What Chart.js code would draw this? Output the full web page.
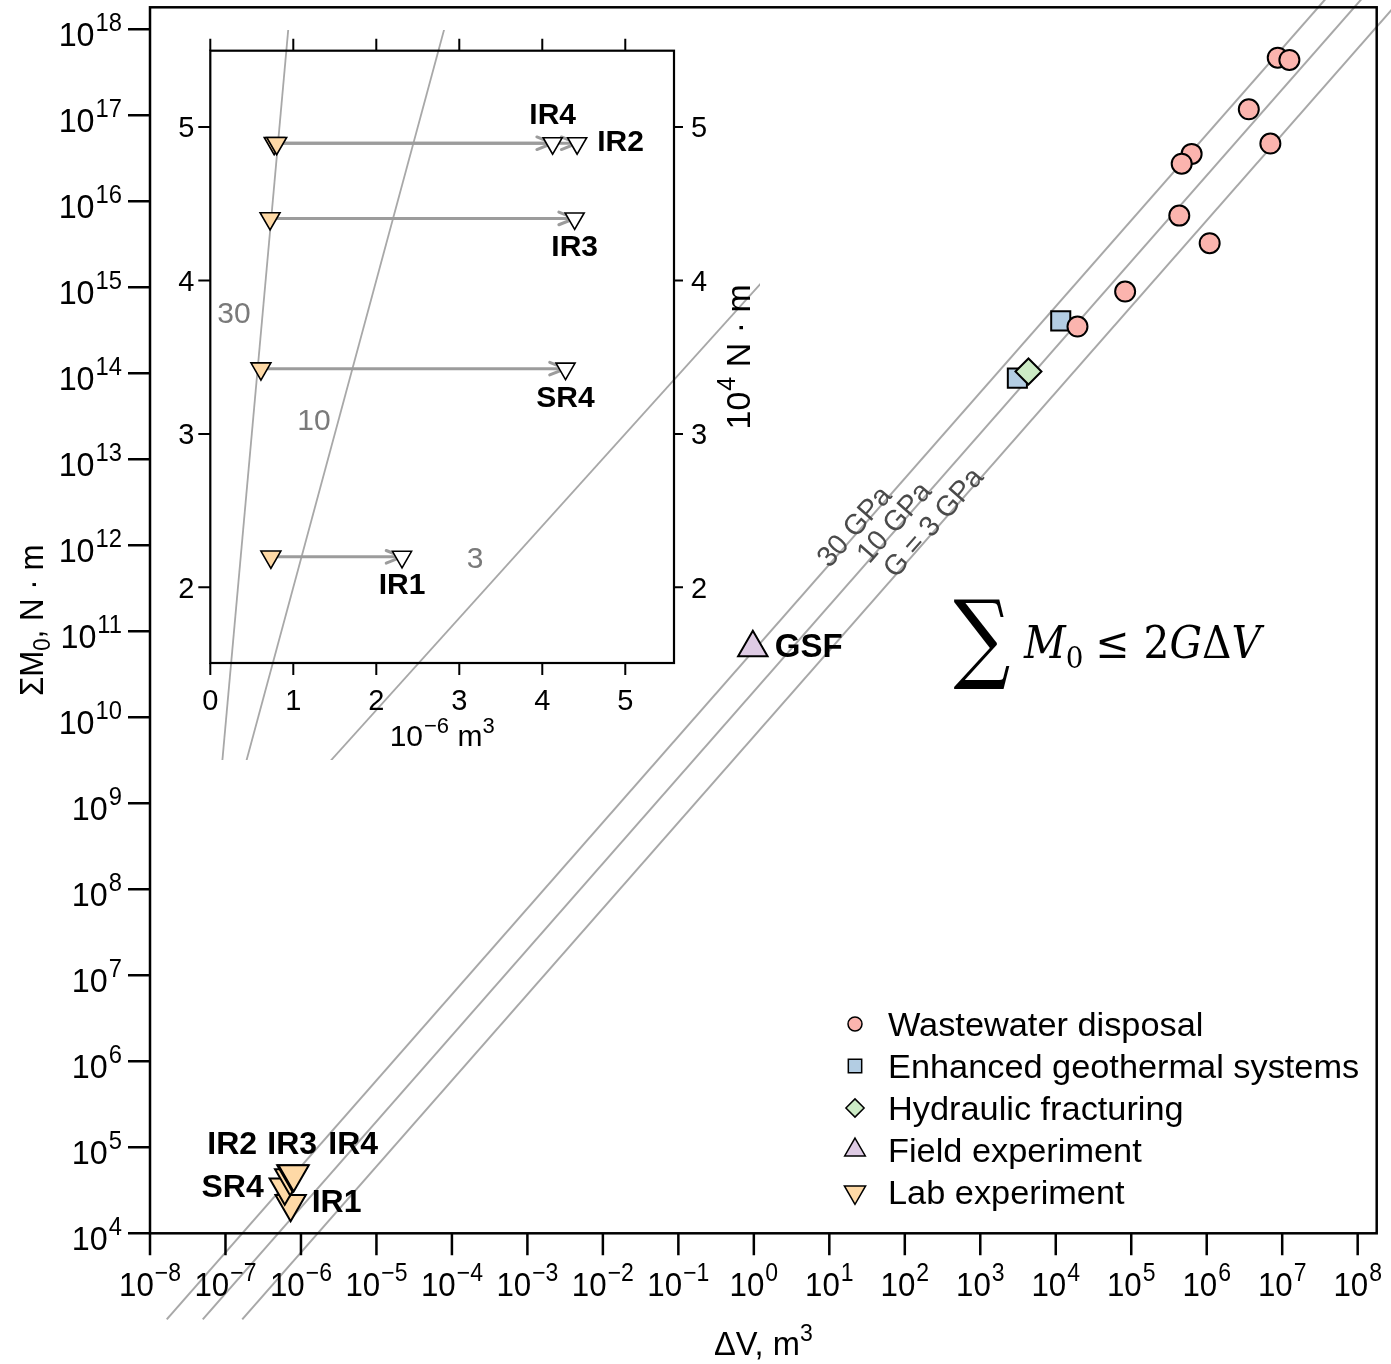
<!DOCTYPE html>
<html>
<head>
<meta charset="utf-8">
<script src="https://cdn.jsdelivr.net/npm/chart.js@4.4.1/dist/chart.umd.min.js"></script>
<style>
  body { margin: 0; background: #fff; }
  #wrap { position: relative; width: 1391px; height: 1364px; }
  #main { position: absolute; left: 0; top: 0; }
  #inset { position: absolute; left: 150px; top: 0; }
</style>
</head>
<body>
<div id="wrap">
  <canvas id="main" width="1391" height="1364"></canvas>
  <canvas id="inset" width="660" height="790"></canvas>
</div>
<script>
// ---- data: main panel (log-log), dV in m^3, sum M0 in N·m ----
const wasteV = [8.73e6, 1.245e7, 3.61e6, 6.97e6, 6.31e5, 4.66e5, 4.33e5, 1.094e6, 8.30e4, 1.94e4];
const wasteM = [4.68e17, 4.40e17, 1.175e17, 4.69e16, 3.56e16, 2.74e16, 6.82e15, 3.26e15, 8.93e14, 3.50e14];
const egsV = [1.164e4, 3.10e3];
const egsM = [4.07e14, 8.79e13];
const hfV = [4.35e3];
const hfM = [1.05e14];
const gsfV = [0.97];
const gsfM = [6.46e10];

// lab experiments (inset units: 1e-6 m^3 and 1e4 N·m)
const labNames = ['IR1', 'SR4', 'IR3', 'IR4', 'IR2'];
const labV0 = [0.73, 0.61, 0.72, 0.77, 0.80];   // filled markers
const labV1 = [2.31, 4.28, 4.39, 4.125, 4.42];  // open markers
const labM = [2.199, 3.425, 4.404, 4.894, 4.894];

// shear modulus lines, sum M0 = 2 G dV
const modGPa = [30, 10, 3];
const modLabels = ['30 GPa', '10 GPa', 'G = 3 GPa'];
const modLabelV = [24.7, 83, 275];
const lineM = [1e3, 1e19];        // main panel line extent (N·m)
const insetLineV = [0, 10];       // inset line extent (1e-6 m^3)
const insetModLabels = ['30', '10', '3'];
const insetModLabelPos = [[0.286, 3.794], [1.249, 3.097], [3.189, 2.197]];

// ticks
const xExps = [-8, -7, -6, -5, -4, -3, -2, -1, 0, 1, 2, 3, 4, 5, 6, 7, 8];
const yExps = [4, 5, 6, 7, 8, 9, 10, 11, 12, 13, 14, 15, 16, 17, 18];
const insetXTicks = [0, 1, 2, 3, 4, 5];
const insetYTicks = [2, 3, 4, 5];

const legendNames = ['Wastewater disposal', 'Enhanced geothermal systems', 'Hydraulic fracturing', 'Field experiment', 'Lab experiment'];

const PINK = '#FBB4AE', BLUE = '#B3CDE3', GREEN = '#CCEBC5', PURPLE = '#DECBE4', ORANGE = '#FED9A6';
const LINE_GREY = '#a8a8a8';
const FONT = '"Liberation Sans", Arial, Helvetica, sans-serif';
const SERIF = '"DejaVu Serif", "Liberation Serif", serif';

function pts(xs, ys) { return xs.map((x, i) => ({ x: x, y: ys[i] })); }

// draw a run of text pieces [{t, size, style, dy, family}] on one baseline
function rich(ctx, parts, x, y, align, sx) {
  sx = sx || 1;
  let total = 0;
  const ws = parts.map(p => {
    ctx.font = (p.style || '') + ' ' + p.size + 'px ' + (p.family || FONT);
    const w = ctx.measureText(p.t).width * sx + (p.gap || 0);
    total += w;
    return w;
  });
  let cx = align === 'right' ? x - total : align === 'center' ? x - total / 2 : x;
  ctx.textAlign = 'left';
  ctx.textBaseline = 'alphabetic';
  parts.forEach((p, i) => {
    ctx.save();
    ctx.font = (p.style || '') + ' ' + p.size + 'px ' + (p.family || FONT);
    ctx.translate(cx + (p.gap || 0), y + (p.dy || 0));
    ctx.scale(sx, 1);
    ctx.fillText(p.t, 0, 0);
    ctx.restore();
    cx += ws[i];
  });
  return total;
}

function supText(e) { return e < 0 ? '\u2212' + (-e) : String(e); }

function marker(ctx, style, rot, r, x, y, fill, bw) {
  ctx.save();
  ctx.fillStyle = fill;
  ctx.strokeStyle = '#000';
  ctx.lineWidth = bw;
  Chart.helpers.drawPoint(ctx, { pointStyle: style, rotation: rot, radius: r, borderWidth: bw }, x, y);
  ctx.restore();
}

// ---------------- main panel ----------------
const mainDecor = {
  id: 'mainDecor',
  beforeDraw(chart) {
    const ctx = chart.ctx;
    ctx.save();
    ctx.fillStyle = '#fff';
    ctx.fillRect(0, 0, chart.width, chart.height);
    ctx.restore();
  },
  afterDraw(chart) {
    const ctx = chart.ctx, a = chart.chartArea;
    const xs = chart.scales.x, ys = chart.scales.y;
    ctx.save();
    ctx.strokeStyle = '#000';
    ctx.fillStyle = '#000';
    ctx.lineWidth = 2.5;
    ctx.strokeRect(a.left, a.top, a.right - a.left, a.bottom - a.top);

    // ticks and labels
    ctx.beginPath();
    xExps.forEach(e => {
      const px = xs.getPixelForValue(Math.pow(10, e));
      ctx.moveTo(px, a.bottom); ctx.lineTo(px, a.bottom + 22);
    });
    yExps.forEach(e => {
      const py = ys.getPixelForValue(Math.pow(10, e));
      ctx.moveTo(a.left - 22, py); ctx.lineTo(a.left, py);
    });
    ctx.stroke();
    xExps.forEach(e => {
      const px = xs.getPixelForValue(Math.pow(10, e));
      rich(ctx, [{ t: '10', size: 34 }, { t: supText(e), size: 25, dy: -15, gap: 1 }], px, a.bottom + 63, 'center', 0.92);
    });
    yExps.forEach(e => {
      const py = ys.getPixelForValue(Math.pow(10, e));
      rich(ctx, [{ t: '10', size: 34 }, { t: supText(e), size: 25, dy: -15, gap: 1 }], a.left - 28, py + 17, 'right', 0.95);
    });

    // axis titles
    const cxm = (a.left + a.right) / 2, cym = (a.top + a.bottom) / 2;
    rich(ctx, [{ t: '\u0394V, m', size: 34 }, { t: '3', size: 24, dy: -14 }], cxm, 1355, 'center', 0.96);
    ctx.save();
    ctx.translate(43, cym);
    ctx.rotate(-Math.PI / 2);
    rich(ctx, [{ t: '\u03a3M', size: 34 }, { t: '0', size: 24, dy: 7 }, { t: ', N \u00b7 m', size: 34 }], 0, 0, 'center', 0.92);
    ctx.restore();

    // modulus line labels
    ctx.fillStyle = '#4a4a4a';
    modGPa.forEach((g, i) => {
      const v = modLabelV[i];
      const p1x = xs.getPixelForValue(v), p1y = ys.getPixelForValue(2 * g * 1e9 * v);
      const p2x = xs.getPixelForValue(v * 10), p2y = ys.getPixelForValue(2 * g * 1e9 * v * 10);
      ctx.save();
      ctx.translate(p1x, p1y);
      ctx.rotate(Math.atan2(p2y - p1y, p2x - p1x));
      rich(ctx, [{ t: modLabels[i], size: 29 }], 0, 3, 'center', 0.98);
      ctx.restore();
    });

    // point labels
    ctx.fillStyle = '#000';
    const gx = xs.getPixelForValue(gsfV[0]), gy = ys.getPixelForValue(gsfM[0]);
    rich(ctx, [{ t: 'GSF', size: 33, style: 'bold' }], gx + 22, gy - 3 + 12, 'left');
    const lp = i => [xs.getPixelForValue(labV0[i] * 1e-6), ys.getPixelForValue(labM[i] * 1e4)];
    const [ir1x, ir1y] = lp(0), [sr4x, sr4y] = lp(1), [ir3x, ir3y] = lp(2);
    rich(ctx, [{ t: 'IR1', size: 32, style: 'bold' }], ir1x + 21, ir1y - 3 + 11.5, 'left');
    rich(ctx, [{ t: 'SR4', size: 32, style: 'bold' }], sr4x - 21, sr4y - 2 + 11.5, 'right');
    rich(ctx, [{ t: 'IR2', size: 32, style: 'bold' }], ir3x - 58, ir3y - 35 + 11.5, 'center');
    rich(ctx, [{ t: 'IR3', size: 32, style: 'bold' }], ir3x + 2, ir3y - 35 + 11.5, 'center');
    rich(ctx, [{ t: 'IR4', size: 32, style: 'bold' }], ir3x + 63, ir3y - 35 + 11.5, 'center');

    // formula: big summation sign fitted to its box
    ctx.save();
    ctx.font = '100px ' + SERIF;
    const m = ctx.measureText('\u2211');
    const gw = m.actualBoundingBoxLeft + m.actualBoundingBoxRight;
    const gh = m.actualBoundingBoxAscent + m.actualBoundingBoxDescent;
    ctx.translate(953.5, 600);
    ctx.scale(56.5 / gw, 90 / gh);
    ctx.textAlign = 'left';
    ctx.textBaseline = 'alphabetic';
    ctx.fillText('\u2211', m.actualBoundingBoxLeft, m.actualBoundingBoxAscent);
    ctx.restore();
    const fParts = [
      { t: 'M', size: 44, style: 'italic', family: SERIF },
      { t: '0', size: 30, dy: 10, family: SERIF },
      { t: '\u2264', size: 44, family: SERIF, gap: 12 },
      { t: '2', size: 44, family: SERIF, gap: 14 },
      { t: 'G', size: 44, style: 'italic', family: SERIF },
      { t: '\u0394', size: 44, family: SERIF },
      { t: 'V', size: 44, style: 'italic', family: SERIF }
    ];
    const fw = rich(chart.ctx, fParts, -9999, -9999, 'left', 1);
    rich(ctx, fParts, 1024, 658, 'left', 235 / fw);

    // legend
    const legendSets = [2, 0, 1, 3, 4].map(k => chart.data.datasets[k]);
    legendSets.forEach((ds, i) => {
      const y = 1024 + i * 42;
      marker(ctx, ds.pointStyle, ds.pointRotation || 0, ds.pointRadius * 0.7, 855, y, ds.pointBackgroundColor, 1.5);
      ctx.fillStyle = '#000';
      rich(ctx, [{ t: legendNames[i], size: 33 }], 888, y + 12, 'left', 1.04);
    });
    ctx.restore();
  }
};

const mainSets = [
  { label: 'egs', data: pts(egsV, egsM), pointStyle: 'rect', pointRadius: 13.5, pointBackgroundColor: BLUE, order: 5 },
  { label: 'hf', data: pts(hfV, hfM), pointStyle: 'rectRot', pointRadius: 13, pointBackgroundColor: GREEN, order: 4 },
  { label: 'waste', data: pts(wasteV, wasteM), pointStyle: 'circle', pointRadius: 10, pointBackgroundColor: PINK, order: 3 },
  { label: 'gsf', data: pts(gsfV, gsfM), pointStyle: 'triangle', pointRadius: 17, pointBackgroundColor: PURPLE, order: 2 },
  { label: 'lab', data: pts(labV0.map(v => v * 1e-6), labM.map(v => v * 1e4)), pointStyle: 'triangle', pointRotation: 180, pointRadius: 17.5, pointBackgroundColor: ORANGE, order: 1 }
].map(d => Object.assign({ pointBorderColor: '#000', pointBorderWidth: 2, showLine: false }, d));

modGPa.forEach((g, i) => {
  mainSets.push({
    label: modLabels[i],
    data: lineM.map(mm => ({ x: mm / (2 * g * 1e9), y: mm })),
    showLine: true, borderColor: LINE_GREY, borderWidth: 2, pointRadius: 0, clip: false, order: 10
  });
});

new Chart(document.getElementById('main'), {
  type: 'scatter',
  data: { datasets: mainSets },
  options: {
    responsive: false,
    animation: false,
    events: [],
    layout: { autoPadding: false, padding: { left: 150, right: 14.3, top: 7.3, bottom: 130.7 } },
    plugins: { legend: { display: false }, tooltip: { enabled: false } },
    scales: {
      x: { type: 'logarithmic', min: 1e-8, max: Math.pow(10, 8.252), display: false },
      y: { type: 'logarithmic', min: 1e4, max: Math.pow(10, 18.256), display: false }
    }
  },
  plugins: [mainDecor]
});

// ---------------- inset (linear) ----------------
const insetDecor = {
  id: 'insetDecor',
  afterDatasetDraw(chart, args) {
    const ds = chart.data.datasets[args.index];
    if (!ds.isArrow) return;
    const ctx = chart.ctx;
    const pts2 = args.meta.data;
    const p0 = pts2[0], p1 = pts2[1];
    const ang = Math.atan2(p1.y - p0.y, p1.x - p0.x);
    ctx.save();
    ctx.strokeStyle = ds.borderColor;
    ctx.lineWidth = 3;
    ctx.lineCap = 'round';
    ctx.beginPath();
    ctx.moveTo(p1.x - 17 * Math.cos(ang - 0.38), p1.y - 17 * Math.sin(ang - 0.38));
    ctx.lineTo(p1.x, p1.y);
    ctx.lineTo(p1.x - 17 * Math.cos(ang + 0.38), p1.y - 17 * Math.sin(ang + 0.38));
    ctx.stroke();
    ctx.restore();
  },
  afterDraw(chart) {
    const ctx = chart.ctx, a = chart.chartArea;
    const xs = chart.scales.x, ys = chart.scales.y;
    ctx.save();
    ctx.strokeStyle = '#000';
    ctx.fillStyle = '#000';
    ctx.lineWidth = 2.2;
    ctx.strokeRect(a.left, a.top, a.right - a.left, a.bottom - a.top);
    ctx.lineWidth = 2;
    ctx.beginPath();
    insetXTicks.forEach(v => {
      const px = xs.getPixelForValue(v);
      ctx.moveTo(px, a.bottom); ctx.lineTo(px, a.bottom + 12);
      ctx.moveTo(px, a.top); ctx.lineTo(px, a.top - 12);
    });
    insetYTicks.forEach(v => {
      const py = ys.getPixelForValue(v);
      ctx.moveTo(a.left - 12, py); ctx.lineTo(a.left, py);
      ctx.moveTo(a.right, py); ctx.lineTo(a.right + 9, py);
    });
    ctx.stroke();
    insetXTicks.forEach(v => {
      rich(ctx, [{ t: String(v), size: 29 }], xs.getPixelForValue(v), a.bottom + 47, 'center');
    });
    insetYTicks.forEach(v => {
      const py = ys.getPixelForValue(v);
      rich(ctx, [{ t: String(v), size: 29 }], a.left - 16, py + 10.5, 'right');
      rich(ctx, [{ t: String(v), size: 29 }], a.right + 17, py + 10.5, 'left');
    });
    rich(ctx, [{ t: '10', size: 30 }, { t: '\u22126', size: 22, dy: -13, gap: 1 }, { t: ' m', size: 30 }, { t: '3', size: 22, dy: -13 }],
      (a.left + a.right) / 2, 746, 'center');
    ctx.save();
    ctx.translate(a.right + 76, (a.top + a.bottom) / 2);
    ctx.rotate(-Math.PI / 2);
    rich(ctx, [{ t: '10', size: 34 }, { t: '4', size: 25, dy: -15, gap: 1 }, { t: ' N \u00b7 m', size: 34 }], 0, 0, 'center');
    ctx.restore();

    // modulus numbers
    ctx.fillStyle = '#7a7a7a';
    insetModLabels.forEach((t, i) => {
      const [vx, vy] = insetModLabelPos[i];
      rich(ctx, [{ t: t, size: 30 }], xs.getPixelForValue(vx), ys.getPixelForValue(vy) + 11, 'center');
    });

    // sample names next to open markers
    ctx.fillStyle = '#000';
    const w = i => [xs.getPixelForValue(labV1[i]), ys.getPixelForValue(labM[i])];
    const offs = { IR1: [0, 27, 'center'], SR4: [0, 28, 'center'], IR3: [0, 27, 'center'], IR4: [0, -30, 'center'], IR2: [20, -3, 'left'] };
    labNames.forEach((n, i) => {
      const [px, py] = w(i), o = offs[n];
      rich(ctx, [{ t: n, size: 30, style: 'bold' }], px + o[0], py + o[1] + 10.5, o[2]);
    });
    ctx.restore();
  }
};

const insetSets = [
  { label: 'open', data: pts(labV1, labM), pointStyle: 'triangle', pointRotation: 180, pointRadius: 11,
    pointBackgroundColor: '#fff', pointBorderColor: '#000', pointBorderWidth: 1.6, showLine: false, order: 1 },
  { label: 'filled', data: pts(labV0, labM), pointStyle: 'triangle', pointRotation: 180, pointRadius: 11.5,
    pointBackgroundColor: ORANGE, pointBorderColor: '#000', pointBorderWidth: 1.6, showLine: false, order: 2 }
];
labNames.forEach((n, i) => {
  insetSets.push({
    label: 'arrow ' + n, isArrow: true,
    data: [{ x: labV0[i], y: labM[i] }, { x: labV1[i], y: labM[i] }],
    showLine: true, borderColor: '#9c9c9c', borderWidth: 3, pointRadius: 0, order: 3
  });
});
modGPa.forEach((g, i) => {
  insetSets.push({
    label: insetModLabels[i],
    data: insetLineV.map(v => ({ x: v, y: 0.2 * g * v })),
    showLine: true, borderColor: LINE_GREY, borderWidth: 1.8, pointRadius: 0,
    clip: { left: 60, top: 20.7, right: 86, bottom: 97 }, order: 10
  });
});

new Chart(document.getElementById('inset'), {
  type: 'scatter',
  data: { datasets: insetSets },
  options: {
    responsive: false,
    animation: false,
    events: [],
    layout: { autoPadding: false, padding: { left: 60.3, right: 136, top: 50.7, bottom: 127 } },
    plugins: { legend: { display: false }, tooltip: { enabled: false } },
    scales: {
      x: { type: 'linear', min: 0, max: 5.587, display: false },
      y: { type: 'linear', min: 1.507, max: 5.497, display: false }
    }
  },
  plugins: [insetDecor]
});
</script>
</body>
</html>
